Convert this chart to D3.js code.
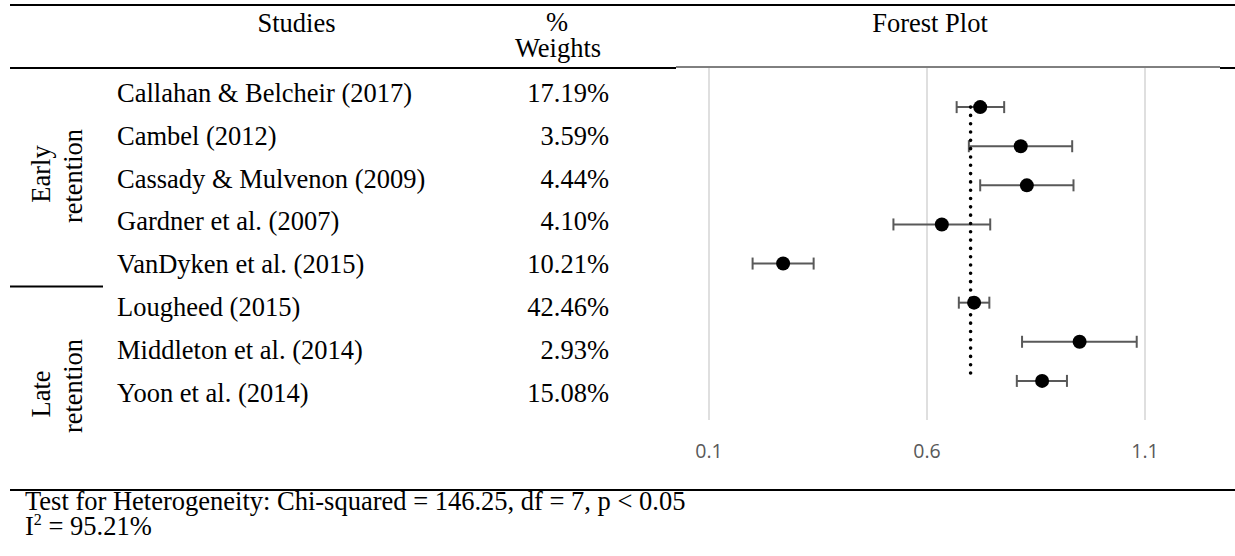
<!DOCTYPE html>
<html>
<head>
<meta charset="utf-8">
<script src="https://cdn.jsdelivr.net/npm/d3@7"></script>
<style>
  html, body { margin: 0; padding: 0; background: #fff; }
  svg { display: block; }
  .serif { font-family: "Liberation Serif", "Times New Roman", serif; font-size: 26.5px; fill: #000; }
  .tick-label { font-family: "Open Sans", "Liberation Sans", sans-serif; font-size: 19.5px; fill: #595959; }
</style>
</head>
<body>
<svg id="chart" width="1235" height="556"></svg>
<script>
// Study rows, top to bottom
const studies = [
  "Callahan & Belcheir (2017)",
  "Cambel (2012)",
  "Cassady & Mulvenon (2009)",
  "Gardner et al. (2007)",
  "VanDyken et al. (2015)",
  "Lougheed (2015)",
  "Middleton et al. (2014)",
  "Yoon et al. (2014)"
];
const weights = [17.19, 3.59, 4.44, 4.10, 10.21, 42.46, 2.93, 15.08];
// Effect estimates with confidence limits
const estimates = [0.722, 0.815, 0.829, 0.634, 0.270, 0.708, 0.950, 0.864];
const lower     = [0.668, 0.696, 0.722, 0.523, 0.200, 0.673, 0.818, 0.806];
const upper     = [0.777, 0.933, 0.936, 0.745, 0.340, 0.743, 1.081, 0.921];
const pooled = 0.70;

// Subgroups (label lines and number of studies in each)
const groupLabels = [["Early", "retention"], ["Late", "retention"]];
const groupSizes = [5, 3];

const xTicks = [0.1, 0.6, 1.1];
const headers = { study: "Studies", weight: ["%", "Weights"], plot: "Forest Plot" };
const footerLines = ["Test for Heterogeneity: Chi-squared = 146.25, df = 7, p < 0.05", "95.21%"];

const svg = d3.select("#chart");
const n = studies.length;

// Scales
const x = d3.scaleLinear().domain([0.1, 1.1]).range([709, 1145]);
const yPlot = d3.scaleLinear().domain([0, n + 1]).range([420, 68]);   // chart rows: n at top .. 1 at bottom
const yRow = d3.scaleLinear().domain([0, n - 1]).range([102, 401.6]); // table text baselines

// Table rules
const rule = (x1, x2, y, w) => svg.append("line")
  .attr("x1", x1).attr("x2", x2).attr("y1", y).attr("y2", y)
  .attr("stroke", "#000").attr("stroke-width", w);
rule(10, 1235, 5, 2);
rule(10, 676, 68, 2);
rule(676, 1220, 67, 1);
rule(1220, 1235, 68, 2);
rule(10, 1235, 490, 2);

// Header
svg.append("text").attr("class", "serif").attr("x", 296.5).attr("y", 32)
  .attr("text-anchor", "middle").text(headers.study);
svg.append("text").attr("class", "serif").attr("x", 557).attr("y", 31)
  .attr("text-anchor", "middle").text(headers.weight[0]);
svg.append("text").attr("class", "serif").attr("x", 558).attr("y", 57)
  .attr("text-anchor", "middle").text(headers.weight[1]);
svg.append("text").attr("class", "serif").attr("x", 930).attr("y", 32)
  .attr("text-anchor", "middle").text(headers.plot);

// Study names and weights
svg.append("g").selectAll("text").data(studies).join("text")
  .attr("class", "serif").attr("x", 117).attr("y", (d, i) => yRow(i)).text(d => d);
svg.append("g").selectAll("text").data(weights).join("text")
  .attr("class", "serif").attr("x", 609).attr("y", (d, i) => yRow(i))
  .attr("text-anchor", "end").text(d => d.toFixed(2) + "%");

// Subgroup labels (rotated) and separator
const groupCenters = [[174, 176], [394, 386]];
const lineX = [50, 82];
groupLabels.forEach((lines, g) => {
  lines.forEach((t, k) => {
    svg.append("text").attr("class", "serif")
      .attr("transform", `translate(${lineX[k]},${groupCenters[g][k]}) rotate(-90)`)
      .attr("text-anchor", "middle").text(t);
  });
});
let acc = 0;
groupSizes.slice(0, -1).forEach(s => {
  acc += s;
  const ySep = (yRow(acc - 1) + yRow(acc)) / 2 - 8;
  rule(10, 103, ySep, 2);
});

// Plot gridlines and tick labels
const plot = svg.append("g");
plot.selectAll("line.grid").data(xTicks).join("line").attr("class", "grid")
  .attr("x1", d => x(d)).attr("x2", d => x(d))
  .attr("y1", yPlot(n + 1)).attr("y2", yPlot(0))
  .attr("stroke", "#d4d4d4").attr("stroke-width", 1.5);
plot.selectAll("text.tick-label").data(xTicks).join("text").attr("class", "tick-label")
  .attr("x", d => x(d)).attr("y", 451).attr("dy", "0.35em")
  .attr("text-anchor", "middle").text(d => d3.format(".1f")(d));

// Confidence intervals
const rowsData = studies.map((s, i) => ({ s, est: estimates[i], lo: lower[i], hi: upper[i], pos: n - i }));
const ci = plot.append("g").attr("stroke", "#595959").attr("stroke-width", 2);
ci.selectAll("line.ci").data(rowsData).join("line").attr("class", "ci")
  .attr("x1", d => x(d.lo)).attr("x2", d => x(d.hi))
  .attr("y1", d => yPlot(d.pos)).attr("y2", d => yPlot(d.pos));
ci.selectAll("line.cap-lo").data(rowsData).join("line").attr("class", "cap-lo")
  .attr("x1", d => x(d.lo)).attr("x2", d => x(d.lo))
  .attr("y1", d => yPlot(d.pos) - 6).attr("y2", d => yPlot(d.pos) + 6);
ci.selectAll("line.cap-hi").data(rowsData).join("line").attr("class", "cap-hi")
  .attr("x1", d => x(d.hi)).attr("x2", d => x(d.hi))
  .attr("y1", d => yPlot(d.pos) - 6).attr("y2", d => yPlot(d.pos) + 6);

// Pooled estimate (dotted)
plot.append("line")
  .attr("x1", x(pooled)).attr("x2", x(pooled))
  .attr("y1", yPlot(n)).attr("y2", yPlot(1))
  .attr("stroke", "#000").attr("stroke-width", 3.6)
  .attr("stroke-linecap", "round").attr("stroke-dasharray", "0.01 8.3");

// Point estimates
plot.selectAll("circle").data(rowsData).join("circle")
  .attr("cx", d => x(d.est)).attr("cy", d => yPlot(d.pos)).attr("r", 7).attr("fill", "#000");

// Footer
svg.append("text").attr("class", "serif").attr("x", 25).attr("y", 510).text(footerLines[0]);
const f2 = svg.append("text").attr("class", "serif").attr("x", 25).attr("y", 535);
f2.append("tspan").text("I");
f2.append("tspan").attr("font-size", "16px").attr("dy", -10).text("2");
f2.append("tspan").attr("dy", 10).text(" = " + footerLines[1]);
</script>
</body>
</html>
